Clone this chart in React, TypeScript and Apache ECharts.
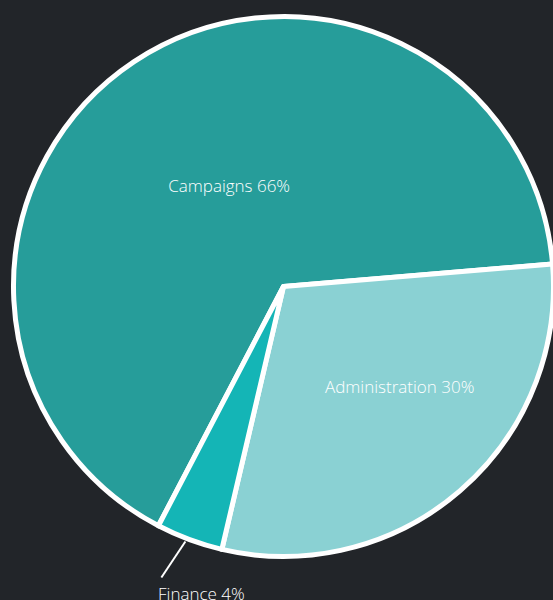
import React, { useEffect, useRef } from "react";
import * as echarts from "echarts";

const categories = ["Campaigns", "Administration", "Finance"];
const values = [66, 30, 4];
const colors = ["#269d9a", "#8ad1d3", "#14b5b6"];

export default function App() {
  const ref = useRef<HTMLDivElement>(null);
  useEffect(() => {
    document.body.style.margin = "0";
    const chart = echarts.init(ref.current!, null, { renderer: "svg" });
    const labelOffsets: Record<string, number[]> = {
      Campaigns: [22, 14],
      Administration: [26, -4],
    };
    const textStyle = {
      color: "#ffffff",
      fontFamily: "Open Sans",
      fontSize: 17,
      fontWeight: 300,
    };
    chart.setOption({
      animation: false,
      backgroundColor: "#222529",
      series: [
        {
          type: "pie",
          center: [283.5, 286.5],
          radius: 270,
          startAngle: 242.4,
          clockwise: true,
          avoidLabelOverlap: false,
          itemStyle: { borderColor: "#ffffff", borderWidth: 5 },
          data: categories.map((name, i) => {
            const inside = name !== "Finance";
            return {
              name,
              value: values[i],
              itemStyle: { color: colors[i] },
              label: inside
                ? {
                    show: true,
                    position: "inside",
                    offset: labelOffsets[name],
                    formatter: "{b} {d}%",
                    ...textStyle,
                  }
                : {
                    show: true,
                    position: "outside",
                    formatter: "{b} {d}%",
                    ...textStyle,
                  },
              labelLine: inside
                ? { show: false }
                : {
                    show: true,
                    length: 40,
                    length2: 0,
                    lineStyle: { color: "#ffffff", width: 2 },
                  },
            };
          }),
          labelLayout: (p: any) => {
            if (p.dataIndex !== 2) return {};
            const pts = p.labelLinePoints;
            const start = [pts[0][0] - 4, pts[0][1] + 2];
            const end = [start[0] - 24, start[1] + 36];
            return {
              x: end[0] + 40,
              y: end[1] + 7,
              align: "center",
              verticalAlign: "top",
              labelLinePoints: [start, end, end],
            };
          },
        },
      ],
    });
    return () => chart.dispose();
  }, []);
  return (
    <div
      ref={ref}
      style={{ position: "absolute", left: 0, top: 0, width: 553, height: 600 }}
    />
  );
}
